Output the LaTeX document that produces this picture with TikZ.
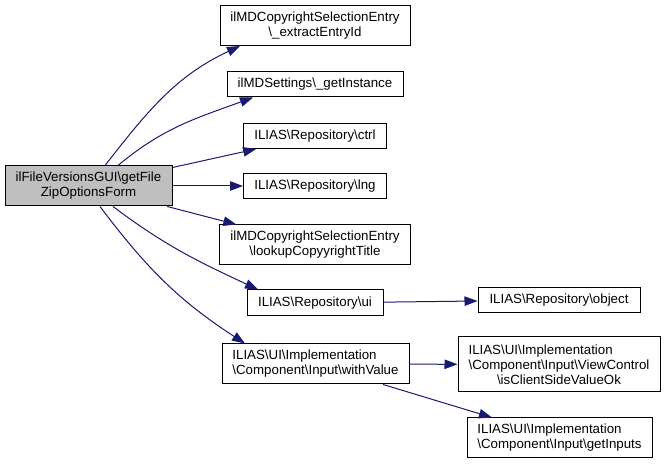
\documentclass[tikz,border=0pt]{standalone}
\usepackage{fontspec}
\setmainfont{Liberation Sans}
\usepackage{tikz}
\usetikzlibrary{arrows.meta}
\usepackage{xcolor}
\definecolor{edgeblue}{HTML}{191970}
\definecolor{mainfill}{HTML}{BFBFBF}
\newcommand{\bsl}{\textbackslash}

\begin{document}
\begin{tikzpicture}[x=1pt, y=1pt,
    box/.style={draw, line width=1pt, inner sep=0pt, align=center,
        font=\fontsize{13.3}{15}\selectfont},
    edge/.style={draw=edgeblue, line width=1pt,
        -{Triangle[length=13pt, width=9.5pt]}, edgeblue}]
            \useasboundingbox (0,0) rectangle (665,464);
            % Nodes
            \node[box, fill=mainfill, minimum width=167, minimum height=40] (main) at (88.5,278) {ilFileVersionsGUI\bsl getFile\\ZipOptionsForm};
            \node[box, minimum width=190, minimum height=40] (extract) at (315,438.5) {ilMDCopyrightSelectionEntry\\\bsl\_extractEntryId};
            \node[box, minimum width=176, minimum height=25] (instance) at (315,379.5) {ilMDSettings\bsl\_getInstance};
            \node[box, minimum width=143, minimum height=25] (ctrl) at (315,328) {ILIAS\bsl Repository\bsl ctrl};
            \node[box, minimum width=143, minimum height=25] (lng) at (315,278) {ILIAS\bsl Repository\bsl lng};
            \node[box, minimum width=191, minimum height=40] (lookup) at (315,219) {ilMDCopyrightSelectionEntry\\\bsl lookupCopyyrightTitle};
            \node[box, minimum width=136, minimum height=26] (ui) at (315,161) {ILIAS\bsl Repository\bsl ui};
            \node[box, minimum width=162, minimum height=25] (object) at (559,164) {ILIAS\bsl Repository\bsl object};
            \node[box, minimum width=187, minimum height=40] (withvalue) at (315.5,100) {\rlap{ILIAS\bsl UI\bsl Implementation}\phantom{\bsl Component\bsl Input\bsl withValue}\\\bsl Component\bsl Input\bsl withValue};
            \node[box, minimum width=202, minimum height=55] (clientside) at (559,99.5) {\rlap{ILIAS\bsl UI\bsl Implementation}\phantom{\bsl Component\bsl Input\bsl ViewControl}\\\bsl Component\bsl Input\bsl ViewControl\\\bsl isClientSideValueOk};
            \node[box, minimum width=185, minimum height=40] (inputs) at (559.5,26) {\rlap{ILIAS\bsl UI\bsl Implementation}\phantom{\bsl Component\bsl Input\bsl getInputs}\\\bsl Component\bsl Input\bsl getInputs};
            % Arrows
            \draw[edge] ([xshift=16.5]main.north) to[out=52, in=205] ([xshift=-75]extract.south);
            \draw[edge] ([xshift=29.5]main.north) to[out=40, in=200] ([xshift=-62]instance.south);
            \draw[edge] (main) -- (ctrl);
            \draw[edge] (main) -- (lng);
            \draw[edge] (main) -- (lookup);
            \draw[edge] ([xshift=24.5]main.south) to[out=-37, in=155] ([xshift=-57]ui.north);
            \draw[edge] ([xshift=11.5]main.south) to[out=-53, in=147] ([xshift=-70.5]withvalue.north);
            \draw[edge] (ui) -- (object);
            \draw[edge] (withvalue) -- (clientside);
            \draw[edge] (withvalue) -- (inputs);
        \end{tikzpicture}
\end{document}
